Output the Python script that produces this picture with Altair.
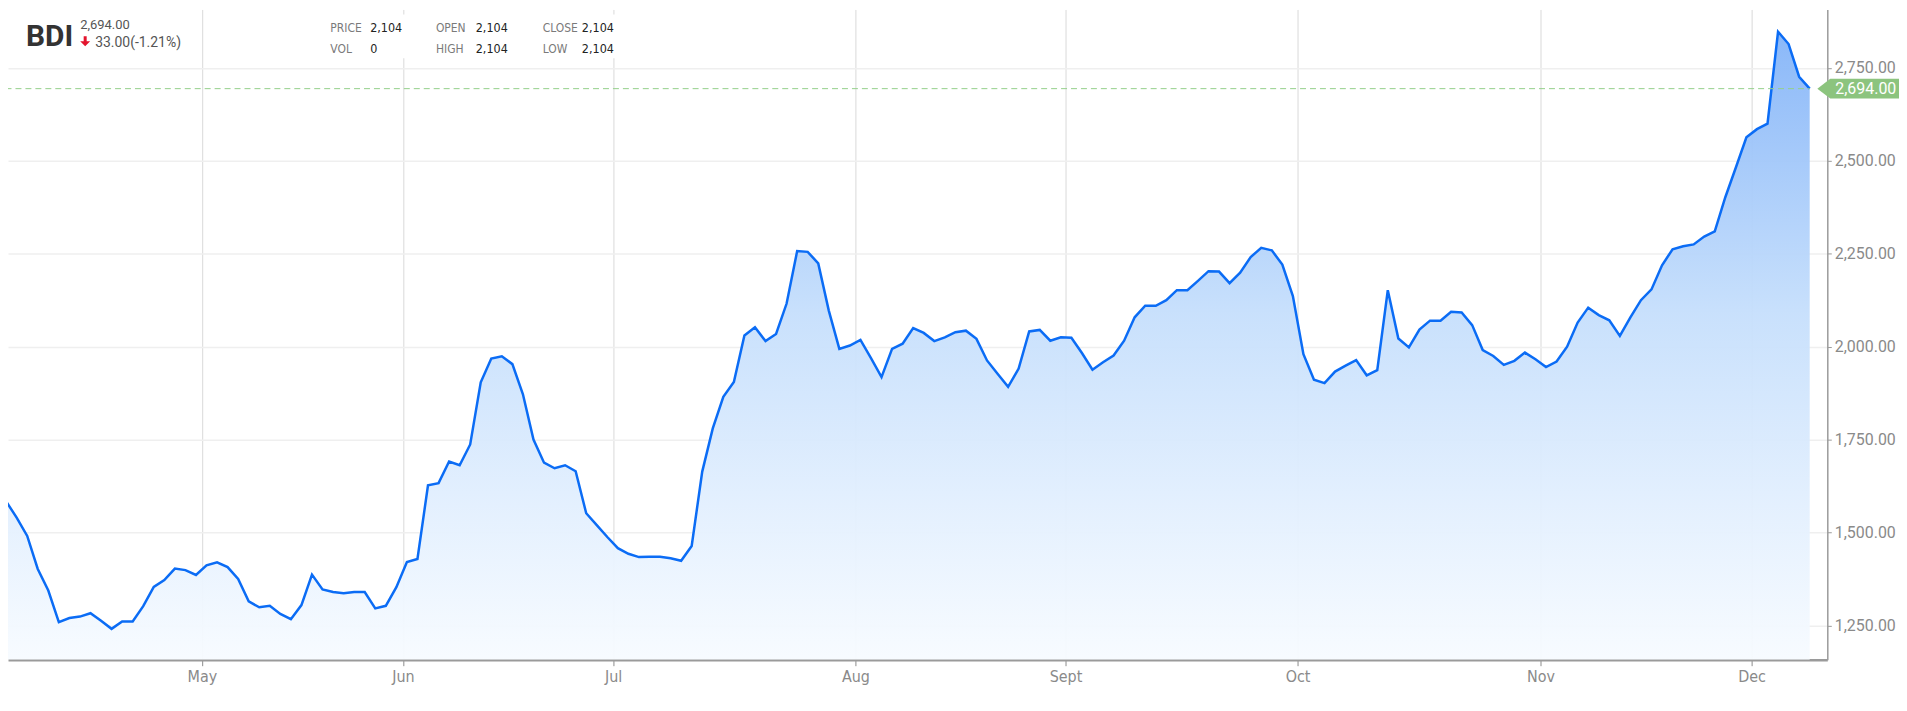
import altair as alt
import pandas as pd

# ---- data ----
values = [1588,
          1584, 1540, 1491, 1402, 1344, 1259, 1270, 1274, 1283, 1263,
          1241, 1261, 1261, 1302, 1354, 1372, 1403, 1399, 1386, 1412,
          1420, 1407, 1375, 1315, 1299, 1303, 1281, 1267, 1305, 1387,
          1347, 1340, 1337, 1340, 1340, 1296, 1303, 1353, 1421, 1429,
          1627, 1633, 1691, 1681, 1737, 1904, 1968, 1974, 1953, 1872,
          1750, 1688, 1673, 1681, 1665, 1552, 1520, 1488, 1458, 1443,
          1434, 1435, 1435, 1431, 1424, 1464, 1664, 1780, 1865, 1905,
          2030, 2052, 2015, 2034, 2116, 2257, 2255, 2224, 2097, 1994,
          2003, 2018, 1969, 1918, 1994, 2008, 2050, 2037, 2015, 2025,
          2039, 2043, 2021, 1963, 1927, 1892, 1941, 2041, 2045, 2016,
          2025, 2024, 1983, 1938, 1958, 1976, 2016, 2079, 2110, 2110,
          2125, 2152, 2152, 2177, 2203, 2202, 2171, 2199, 2241, 2266,
          2259, 2221, 2136, 1980, 1911, 1902, 1933, 1949, 1964, 1923,
          1937, 2152, 2022, 1998, 2046, 2070, 2070, 2094, 2092, 2058,
          1991, 1975, 1951, 1962, 1984, 1966, 1945, 1960, 2000, 2065,
          2105, 2085, 2071, 2029, 2079, 2125, 2154, 2219, 2262, 2270,
          2275, 2296, 2310, 2402, 2482, 2563, 2585, 2600, 2847, 2814,
          2726, 2694]

month_ticks = [19.56, 38.63, 58.55, 81.52, 101.44, 123.44, 146.48, 166.49]
month_labels = ["May", "Jun", "Jul", "Aug", "Sept", "Oct", "Nov", "Dec"]
y_ticks = [1250, 1500, 1750, 2000, 2250, 2500, 2750]
y_min, y_max = 1158, 2907

last_value = 2694
symbol_name = "BDI"
last_text = "2,694.00"
change_text = "33.00(-1.21%)"
header_labels = ["PRICE", "VOL", "OPEN", "HIGH", "CLOSE", "LOW"]
header_values = ["2,104", "0", "2,104", "2,104", "2,104", "2,104"]

# ---- tables ----
df = pd.DataFrame({"i": list(range(len(values))), "v": values})
df_last = pd.DataFrame({"i": [0], "i2": [len(values) - 1], "v": [last_value]})
dummy = pd.DataFrame({"a": [0]})

W, H = 1827, 653
NARROW = "Liberation Sans Narrow, DejaVu Sans Condensed, Roboto"

label_expr = "[" + ",".join("'%s'" % m for m in month_labels) + "][indexof([" + \
    ",".join(str(t) for t in month_ticks) + "], datum.value)]"

x_enc = alt.X(
    "i:Q",
    scale=alt.Scale(domain=[1.179, 173.67], nice=False, zero=False),
    axis=alt.Axis(
        values=month_ticks, labelExpr=label_expr, title=None,
        grid=True, gridColor="#d9d9d9", gridWidth=1,
        domainColor="#9a9a9a", domainWidth=2.5,
        tickColor="#8a8a8a", tickSize=6, tickWidth=1,
        labelFont=NARROW, labelFontSize=16, labelColor="#8a8a8a",
        labelPadding=3, labelFlush=False,
    ),
)
y_enc = alt.Y(
    "v:Q",
    scale=alt.Scale(domain=[y_min, y_max], nice=False, zero=False),
    axis=alt.Axis(
        orient="right", values=y_ticks, format=",.2f", title=None,
        grid=True, gridColor="#efefef", gridWidth=1.5,
        domainColor="#9a9a9a", domainWidth=1.5,
        tickColor="#9a9a9a", tickSize=4,
        labelFont="Roboto", labelFontSize=16, labelColor="#8a8a8a",
        labelPadding=3, labelFlush=False,
    ),
)

fill = alt.Gradient(
    gradient="linear",
    stops=[
        alt.GradientStop(color="#f7fbff", offset=0),
        alt.GradientStop(color="#e2effe", offset=0.25),
        alt.GradientStop(color="#c6dffc", offset=0.55),
        alt.GradientStop(color="#84b4f8", offset=1),
    ],
    x1=1, x2=1, y1=1, y2=0,
)

base = alt.Chart(df)
area = base.mark_area(clip=True, color=fill, opacity=0.95).encode(
    x=x_enc, y=y_enc, y2=alt.datum(y_min)
)
line = base.mark_line(clip=True, color="#0b6cf5", strokeWidth=2.5).encode(x=x_enc, y=y_enc)

last_rule = alt.Chart(df_last).mark_rule(
    clip=True, color="#93cf8a", strokeDash=[6, 4], strokeWidth=1
).encode(x=alt.X("i:Q"), x2="i2:Q", y=alt.Y("v:Q"))

flag_path = "M -1 0 L -0.683 -0.244 L 1 -0.244 L 1 0.244 L -0.683 0.244 Z"
flag = alt.Chart(df_last).mark_point(
    shape=flag_path, size=6724, filled=True, color="#8cc47e", opacity=1, strokeWidth=0
).encode(x=alt.value(1858), y=alt.Y("v:Q"))
flag_text = alt.Chart(df_last).mark_text(
    align="left", baseline="middle", color="white", fontSize=16, font="Roboto"
).encode(x=alt.value(1835), y=alt.Y("v:Q"), text=alt.value(last_text))

# header
header_box = alt.Chart(dummy).mark_rect(color="white").encode(
    x=alt.value(302), x2=alt.value(622), y=alt.value(5), y2=alt.value(49)
)


def txt(s, x, y, size, color, font="Roboto", weight="normal"):
    return alt.Chart(dummy).mark_text(
        align="left", baseline="alphabetic", fontSize=size, color=color,
        font=font, fontWeight=weight
    ).encode(x=alt.value(x), y=alt.value(y), text=alt.value(s))


header = [
    txt(symbol_name, 18, 37, 30, "#333333", font="Roboto", weight="bold"),
    txt(last_text, 72.5, 20, 13, "#555555"),
    txt(change_text, 87.5, 37.5, 14, "#555555"),
]
arrow_path = "M -0.3 -1 L 0.3 -1 L 0.3 0 L 1 0 L 0 1 L -1 0 L -0.3 0 Z"
arrow = alt.Chart(dummy).mark_point(
    shape=arrow_path, size=100, filled=True, color="#e3142d", opacity=1, strokeWidth=0
).encode(x=alt.value(77.5), y=alt.value(32))

col_x = [323.7, 429.7, 537]
val_x = [363.7, 469.7, 576.3]
row_y = [22.7, 43.7]
for k in range(len(header_labels)):
    c, r = k // 2, k % 2
    header.append(txt(header_labels[k], col_x[c], row_y[r], 12, "#7a7a7a", font=NARROW))
    header.append(txt(header_values[k], val_x[c], row_y[r], 12.5, "#222222", font=NARROW))

chart = alt.layer(
    area, line, last_rule, flag, flag_text, header_box, arrow, *header
).properties(
    width=W, height=H,
    autosize=alt.AutoSizeParams(type="none"),
    padding={"left": 0, "top": 0, "right": 72, "bottom": 40},
).configure_view(strokeWidth=0)

chart.save("out.html", embed_options={"renderer": "svg", "actions": False})
